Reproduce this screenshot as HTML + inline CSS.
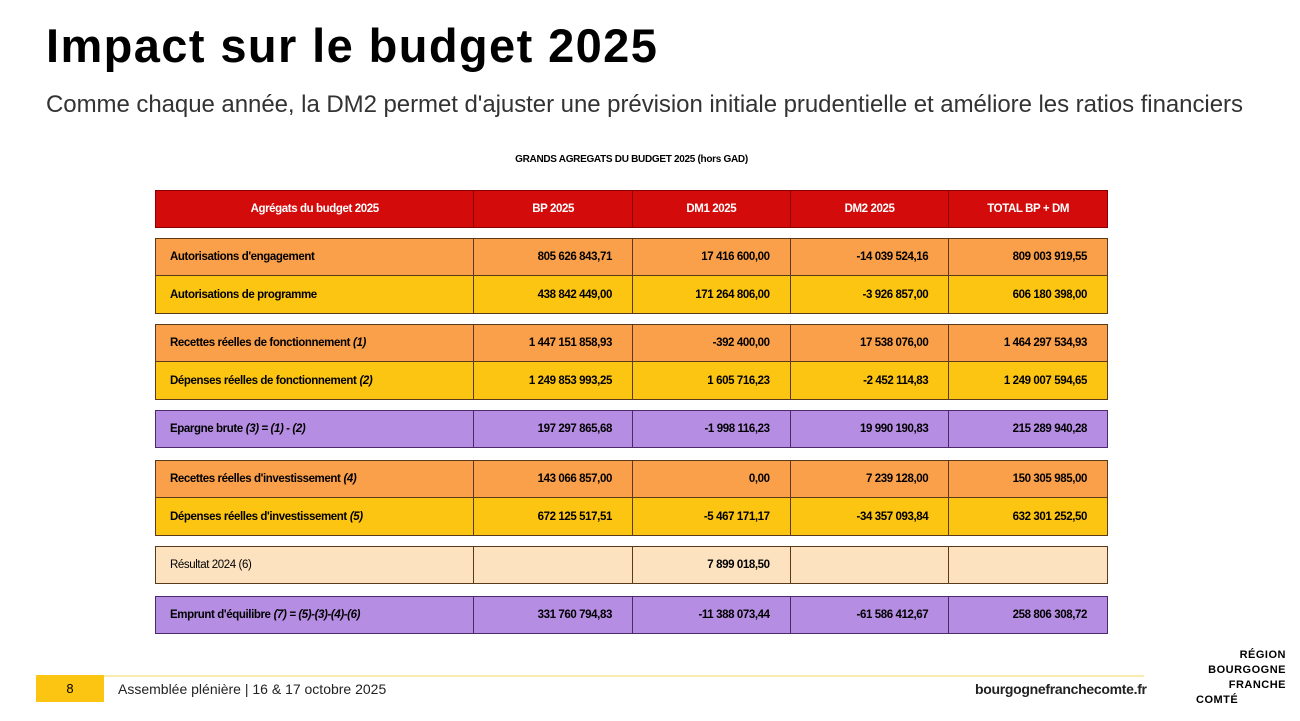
<!DOCTYPE html>
<html><head><meta charset="utf-8"><style>
*{margin:0;padding:0;box-sizing:border-box}
body{width:1300px;height:721px;background:#fff;position:relative;overflow:hidden;font-family:"Liberation Sans",sans-serif;color:#000}
.t{position:absolute;left:46px;top:18px;font-size:47px;font-weight:bold;letter-spacing:1.4px;white-space:nowrap}
.s{position:absolute;left:46px;top:91px;font-size:24px;color:#333;letter-spacing:-0.05px;white-space:nowrap}
.cap{position:absolute;left:0;width:1263px;text-align:center;top:154px;font-size:10px;font-weight:bold;letter-spacing:-0.3px}
.r{position:absolute;left:155px;width:953px;height:38px;display:flex;border:1.5px solid #5a3a1a}
.r div{height:100%;border-right:1.5px solid #5a3a1a;display:flex;align-items:center;justify-content:flex-end;padding:0 20px 0 10px;font-size:11.5px;font-weight:bold;letter-spacing:-0.4px}
.r div:last-child{border-right:none}
.r div:nth-child(1){width:319px;justify-content:flex-start;padding-left:14px}
.r div:nth-child(2){width:159px}
.r div:nth-child(3){width:158px}
.r div:nth-child(4){width:159px}
.r div:nth-child(5){width:158px}
.h{background:#d40b0b;border-color:#8a0000}
.h div{color:#fff;justify-content:center!important;padding:0!important;border-color:#8a0000}
.o{background:#fa9f4a}.y{background:#fcc512}.p{background:#b58de3;border-color:#4a2a6a}.p div{border-color:#4a2a6a}.l{background:#fde2c0}
.nb{border-top:none}
i{font-style:italic;margin-left:3px}
</style></head><body>
<div class="t">Impact sur le budget 2025</div>
<div class="s">Comme chaque année, la DM2 permet d'ajuster une prévision initiale prudentielle et améliore les ratios financiers</div>
<div class="cap">GRANDS AGREGATS DU BUDGET 2025 (hors GAD)</div>
<div class="r h" style="top:190px"><div>Agrégats du budget 2025</div><div>BP 2025</div><div>DM1 2025</div><div>DM2 2025</div><div>TOTAL BP + DM</div></div>
<div class="r o" style="top:238px"><div>Autorisations d'engagement</div><div>805 626 843,71</div><div>17 416 600,00</div><div>-14 039 524,16</div><div>809 003 919,55</div></div>
<div class="r y nb" style="top:276px"><div>Autorisations de programme</div><div>438 842 449,00</div><div>171 264 806,00</div><div>-3 926 857,00</div><div>606 180 398,00</div></div>
<div class="r o" style="top:324px"><div>Recettes réelles de fonctionnement<i>(1)</i></div><div>1 447 151 858,93</div><div>-392 400,00</div><div>17 538 076,00</div><div>1 464 297 534,93</div></div>
<div class="r y nb" style="top:362px"><div>Dépenses réelles de fonctionnement<i>(2)</i></div><div>1 249 853 993,25</div><div>1 605 716,23</div><div>-2 452 114,83</div><div>1 249 007 594,65</div></div>
<div class="r p" style="top:410px"><div>Epargne brute<i>(3) = (1) - (2)</i></div><div>197 297 865,68</div><div>-1 998 116,23</div><div>19 990 190,83</div><div>215 289 940,28</div></div>
<div class="r o" style="top:460px"><div>Recettes réelles d'investissement<i>(4)</i></div><div>143 066 857,00</div><div>0,00</div><div>7 239 128,00</div><div>150 305 985,00</div></div>
<div class="r y nb" style="top:498px"><div>Dépenses réelles d'investissement<i>(5)</i></div><div>672 125 517,51</div><div>-5 467 171,17</div><div>-34 357 093,84</div><div>632 301 252,50</div></div>
<div class="r l" style="top:546px"><div style="font-weight:normal">Résultat 2024 (6)</div><div></div><div>7 899 018,50</div><div></div><div></div></div>
<div class="r p" style="top:596px"><div>Emprunt d'équilibre<i>(7) = (5)-(3)-(4)-(6)</i></div><div>331 760 794,83</div><div>-11 388 073,44</div><div>-61 586 412,67</div><div>258 806 308,72</div></div>
<div style="position:absolute;left:36px;top:675px;width:68px;height:27px;background:#fcc512;font-size:13px;text-align:center;line-height:27px">8</div>
<div style="position:absolute;left:104px;top:675px;width:1040px;height:2px;background:#f8ecb0"></div>
<div style="position:absolute;left:118px;top:681px;font-size:14px;color:#222">Assemblée plénière | 16 &amp; 17 octobre 2025</div>
<div style="position:absolute;left:975px;top:681px;font-size:14px;font-weight:bold;color:#222;letter-spacing:-0.3px">bourgognefranchecomte.fr</div>
<div style="position:absolute;left:1196px;top:648px;width:90px;font-size:11px;font-weight:bold;line-height:15px;text-align:right;letter-spacing:0.5px">RÉGION<br>BOURGOGNE<br>FRANCHE<br><span style="display:block;text-align:left">COMTÉ</span></div>
</body></html>
